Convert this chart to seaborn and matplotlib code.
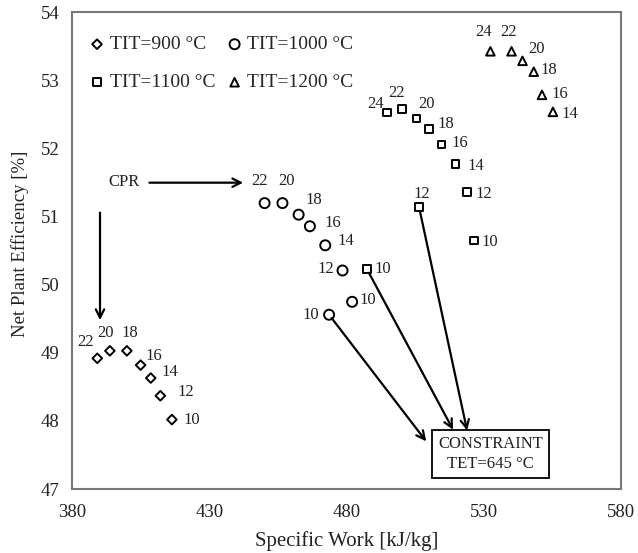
import matplotlib
matplotlib.use("Agg")
import matplotlib.pyplot as plt
import seaborn as sns

# Compressor pressure ratio (CPR), specific work [kJ/kg] and net plant efficiency [%]
# for each turbine inlet temperature (TIT)
cpr_900 = [22, 20, 18, 16, 14, 12, 10]
work_900 = [389.2, 393.8, 400.0, 405.0, 408.7, 412.2, 416.4]
eff_900 = [48.92, 49.03, 49.03, 48.82, 48.63, 48.37, 48.02]

cpr_1000 = [22, 20, 18, 16, 14, 12, 10, 10]
work_1000 = [450.2, 456.7, 462.6, 466.7, 472.3, 478.6, 482.1, 473.7]
eff_1000 = [51.20, 51.20, 51.03, 50.86, 50.58, 50.21, 49.75, 49.56]

cpr_1100 = [24, 22, 20, 18, 16, 14, 12, 10, 12, 10]
work_1100 = [494.9, 500.3, 505.6, 510.2, 514.7, 519.8, 523.9, 526.6, 506.5, 487.5]
eff_1100 = [52.53, 52.58, 52.44, 52.29, 52.06, 51.77, 51.36, 50.65, 51.14, 50.23]

cpr_1200 = [24, 22, 20, 18, 16, 14]
work_1200 = [532.5, 540.2, 544.2, 548.3, 551.3, 555.3]
eff_1200 = [53.43, 53.43, 53.29, 53.13, 52.79, 52.54]

series_labels = ["TIT=900 °C", "TIT=1000 °C", "TIT=1100 °C", "TIT=1200 °C"]

# Points limited by the turbine exit temperature: (series index, point index)
constrained = [(1, 7), (2, 9), (2, 8)]
constraint_text = "CONSTRAINT\nTET=645 °C"

x_ticks = [380, 430, 480, 530, 580]
y_ticks = [47, 48, 49, 50, 51, 52, 53, 54]

# ---- layout / style ----
markers = ["D", "o", "s", "^"]
sizes = [24, 52, 30, 38]
# CPR label offsets from each marker, in pixels (x right, y up)
label_offsets = [
    [(-12, 16), (-4, 18), (3, 18), (13, 9), (19, 6), (25, 4), (20, 0)],
    [(-5, 22), (4, 22), (15, 15), (23, 3), (21, 4), (-17, 1), (16, 2), (-18, 0)],
    [(-12, 9), (-6, 16), (10, 15), (17, 5), (18, 2), (20, -2), (17, -2), (16, -1), (3, 13), (16, 0)],
    [(-7, 19), (-3, 19), (14, 12), (15, 2), (18, 1), (17, -2)],
]
constraint_arrow_ends = [(509.1, 47.70), (518.9, 47.87), (524.0, 47.86)]
constraint_box_at = (532.5, 47.51)

sns.set_style("white")
plt.rcParams["font.family"] = ["Liberation Serif", "DejaVu Serif"]

fig = plt.figure(figsize=(6.38, 5.53), dpi=100)
ax = fig.add_axes([0.1129, 0.1157, 0.8600, 0.8617])

works = [work_900, work_1000, work_1100, work_1200]
effs = [eff_900, eff_1000, eff_1100, eff_1200]
cprs = [cpr_900, cpr_1000, cpr_1100, cpr_1200]

for i in range(4):
    sns.scatterplot(x=works[i], y=effs[i], marker=markers[i], s=sizes[i],
                    facecolor="none", edgecolor="black", linewidth=1.4,
                    label=series_labels[i], ax=ax, zorder=3)
    for j, c in enumerate(cprs[i]):
        ax.annotate(str(c), xy=(works[i][j], effs[i][j]),
                    xytext=label_offsets[i][j], textcoords="offset pixels",
                    ha="center", va="center", fontsize=12, color="#222222")

arrow_kw = dict(arrowstyle="->", lw=1.6, color="black", mutation_scale=15)

# CPR direction arrows
ax.text(399.1, 51.51, "CPR", ha="center", va="center", fontsize=12, color="#222222")
ax.annotate("", xy=(442.4, 51.50), xytext=(408.2, 51.50),
            arrowprops=dict(shrinkA=0, shrinkB=0, **arrow_kw))
ax.annotate("", xy=(390.2, 49.48), xytext=(390.2, 51.06),
            arrowprops=dict(shrinkA=0, shrinkB=0, **arrow_kw))

# Arrows from temperature-limited points to the constraint note
for (si, pj), end in zip(constrained, constraint_arrow_ends):
    ax.annotate("", xy=end, xytext=(works[si][pj], effs[si][pj]),
                arrowprops=dict(shrinkA=3, shrinkB=0, **arrow_kw))
ax.text(*constraint_box_at, constraint_text, ha="center", va="center",
        fontsize=12, color="#222222", linespacing=1.35,
        bbox=dict(boxstyle="square,pad=0.35", fc="white", ec="black", lw=1.3))

ax.set_xlim(380, 580)
ax.set_ylim(47, 54)
ax.set_xticks(x_ticks)
ax.set_yticks(y_ticks)
ax.tick_params(axis="both", direction="out", length=4, width=1.2,
               color="#777777", labelsize=13.5, labelcolor="#222222", pad=5)
ax.tick_params(axis="x", pad=7)
for sp in ax.spines.values():
    sp.set_color("#777777")
    sp.set_linewidth(1.5)
ax.set_xlabel("Specific Work [kJ/kg]", fontsize=15, color="#222222", labelpad=7)
ax.set_ylabel("Net Plant Efficiency [%]", fontsize=13.5, color="#222222")
ax.yaxis.set_label_coords(-0.078, 0.515)

# Legend filled row by row: 900, 1000 on top; 1100, 1200 below
h, l = ax.get_legend_handles_labels()
order = [0, 2, 1, 3]
ax.legend([h[k] for k in order], [l[k] for k in order],
          loc="upper left", bbox_to_anchor=(0.003, 0.988), ncol=2, frameon=False,
          fontsize=14, handlelength=0.6, handletextpad=0.35, columnspacing=0.7,
          labelspacing=1.05, borderaxespad=0.5)

fig.savefig("out.png", dpi=100)
